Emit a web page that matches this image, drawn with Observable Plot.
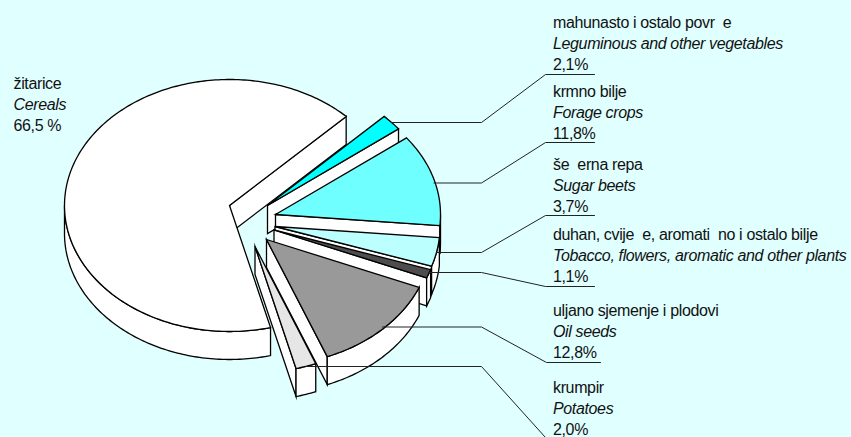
<!DOCTYPE html>
<html><head><meta charset="utf-8">
<script src="https://cdn.jsdelivr.net/npm/d3@7"></script>
<script src="https://cdn.jsdelivr.net/npm/@observablehq/plot@0.6"></script>
<style>html,body{margin:0;padding:0;background:#E0FFFF}svg{display:block}</style>
</head><body><div id="chart"></div>
<script>
// Data, clockwise from the cereals slice
const categories = ["Cereals","Leguminous","Forage","Sugar beets","Tobacco","Oil seeds","Potatoes"];
const shares = [66.5, 2.1, 11.8, 3.7, 1.1, 12.8, 2.0];
const local = ["žitarice","mahunasto i ostalo povr\u00A0\u00A0e","krmno bilje","še\u00A0\u00A0erna repa","duhan, cvije\u00A0\u00A0e, aromati\u00A0\u00A0no i ostalo bilje","uljano sjemenje i plodovi","krumpir"];
const english = ["Cereals","Leguminous and other vegetables","Forage crops","Sugar beets","Tobacco, flowers, aromatic and other plants","Oil seeds","Potatoes"];
const percents = ["66,5 %","2,1%","11,8%","3,7%","1,1%","12,8%","2,0%"];
const colors = ["#FFFFFF","#00FFFF","#70FFFF","#BBFFFF","#4D4D4D","#999999","#E6E6E6"];

// Layout
const W = 851, H = 437;
const cx = 229, cy = 205, rx = 165, ry = 126, depth = 28;
const startAngle = 165.6;                 // cereals start, degrees clockwise from top
const explodeX = [0, 38, 46, 45.5, 44.5, 37, 25.5];
const explodeY = [0, 0, 9, 21, 24.5, 34, 41];
const labelX = [13, 552.5, 552.5, 552.5, 552.5, 552.5, 552.5];
const labelY = [83, 22, 91, 164, 234, 310, 387];
const lineGap = 21;
const leaderY = [null, 122, 182.5, 252, 272, 326.5, 366];
const elbowX = 481;
const kneeX = [null, 545, 545, 545, 545, 546, 545];
const kneeY = [null, 74, 142, 215, 286, 362, 437];
const leaderEnd = [null, 594, 594, 594, 594, 600, 545];

const rad = d => d * Math.PI / 180;
const total = d3.sum(shares);
let acc = startAngle;
const slices = shares.map((v, i) => {
  const a = acc, b = acc + v / total * 360;
  acc = b >= 360 ? b - 360 : b;
  return {i, a, b, ax: cx + explodeX[i], ay: cy + explodeY[i]};
});
const pt = (s, t, dz = 0) => [s.ax + rx * Math.sin(rad(t)), s.ay - ry * Math.cos(rad(t)) + dz];
const arc = (s, from, to, dz = 0) => {
  const n = Math.max(2, Math.ceil(Math.abs(to - from))), out = [];
  for (let k = 0; k <= n; k++) out.push(pt(s, from + (to - from) * k / n, dz));
  return out;
};

const polys = [];
const add = (id, fill, pts) => pts.forEach(p => polys.push({id, fill, x: p[0], y: p[1]}));
slices.forEach(s => {
  const {i, a, b, ax, ay} = s;
  // visible radial wall at the clockwise end of the slice
  if (Math.cos(rad(b + 90)) < 0) {
    add(i + "cut", "#FFFFFF", [[ax, ay], pt(s, b), pt(s, b, depth), [ax, ay + depth]]);
  }
  // visible outer rim (screen-lower half of the ellipse, 90..270 degrees)
  const from = Math.max(a, 90), to = Math.min(b, 270);
  if (to > from) {
    add(i + "rim", "#FFFFFF", [...arc(s, from, to), ...arc(s, to, from, depth)]);
  }
  add(i + "top", colors[i], [[ax, ay], ...arc(s, a, b)]);
});

// Leaders start on the arc at the slice's mid angle
const leaders = [];
slices.forEach(s => {
  if (!s.i) return;
  const mid = (s.a + s.b) / 2, p = pt(s, mid);
  [[p[0], leaderY[s.i]], [elbowX, leaderY[s.i]], [kneeX[s.i], kneeY[s.i]], [leaderEnd[s.i], kneeY[s.i]]]
    .forEach(q => leaders.push({id: s.i, x: q[0], y: q[1]}));
});

const font = {fontFamily: "'Liberation Sans', Arial, sans-serif", fontSize: 16, textAnchor: "start", lineAnchor: "middle", fill: "#111"};
const rows = local.map((_, i) => ({i, x: labelX[i], y: labelY[i]}));

const plot = Plot.plot({
  width: W, height: H, margin: 0,
  style: {background: "#E0FFFF", letterSpacing: "-0.36px"},
  x: {domain: [0, W], range: [0, W], axis: null},
  y: {domain: [0, H], range: [0, H], axis: null},
  color: {type: "identity"},
  marks: [
    Plot.line(polys, {x: "x", y: "y", z: "id", fill: "fill", stroke: "#000", strokeWidth: 1.3,
      curve: "linear-closed", strokeLinejoin: "miter", strokeMiterlimit: 10}),
    Plot.line(leaders, {x: "x", y: "y", z: "id", stroke: "#222", strokeWidth: 1, strokeLinejoin: "miter"}),
    Plot.text(rows, {x: "x", y: "y", text: d => local[d.i], ...font}),
    Plot.text(rows, {x: "x", y: d => d.y + lineGap, text: d => english[d.i], fontStyle: "italic", ...font}),
    Plot.text(rows, {x: "x", y: d => d.y + 2 * lineGap, text: d => percents[d.i], ...font})
  ]
});
document.getElementById("chart").append(plot);
</script></body></html>
